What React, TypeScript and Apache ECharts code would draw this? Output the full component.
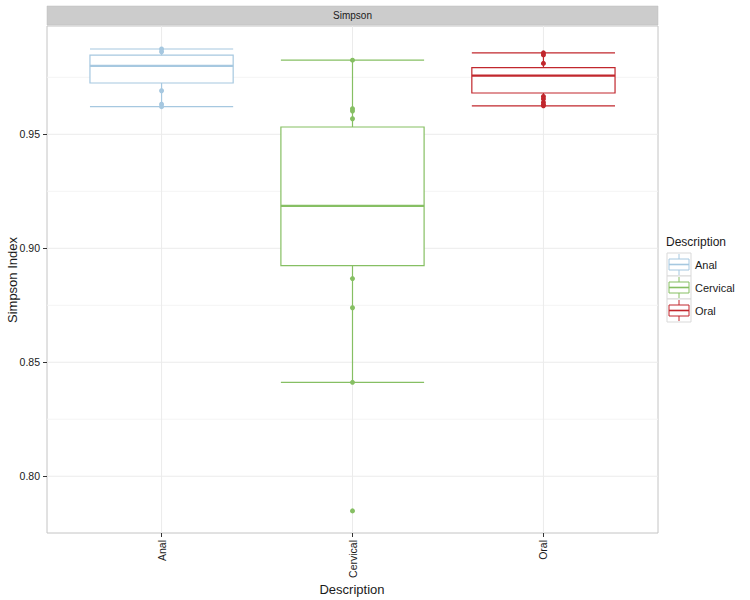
import React, { useEffect, useRef } from "react";
import * as echarts from "echarts";

const categories = ["Anal", "Cervical", "Oral"];
const colors = ["#A6C8E0", "#86BF63", "#C1272D"];
const lowerWhisker = [0.9621, 0.8412, 0.9625];
const q1 = [0.9725, 0.8924, 0.9681];
const median = [0.98, 0.9186, 0.9757];
const q3 = [0.9847, 0.9532, 0.9792];
const upperWhisker = [0.9874, 0.9825, 0.9857];
const analPoints = [0.9874, 0.9862, 0.9691, 0.9632, 0.9621];
const cervicalPoints = [0.9825, 0.9612, 0.9602, 0.9568, 0.8867, 0.8739, 0.8412, 0.7848];
const oralPoints = [0.9857, 0.9848, 0.9811, 0.9666, 0.9655, 0.964, 0.963, 0.9625];
const yTicks = [0.8, 0.85, 0.9, 0.95];
const yMinor = [0.825, 0.875, 0.925, 0.975];
const xTicks = [1, 2, 3];

const FONT = "Liberation Sans, Arial, Helvetica, sans-serif";

export default function App() {
  const ref = useRef<HTMLDivElement>(null);
  useEffect(() => {
    if (!ref.current) return;
    const chart = echarts.init(ref.current, null, { renderer: "svg" });
    const gridL = 47, gridR = 658, gridT = 26, gridB = 533;
    const pointSets = [analPoints, cervicalPoints, oralPoints];

    const legendChildren: any[] = [
      { type: "text", x: 666, y: 242, style: { text: "Description", font: `12px ${FONT}`, fill: "#1a1a1a", verticalAlign: "middle" } },
    ];
    categories.forEach((c, i) => {
      const ky = 253 + i * 23;
      const col = colors[i];
      legendChildren.push(
        { type: "rect", shape: { x: 667, y: ky, width: 24, height: 23 }, style: { fill: "#fff", stroke: "#d9d9d9", lineWidth: 1 } },
        { type: "line", shape: { x1: 679, y1: ky + 1, x2: 679, y2: ky + 22 }, style: { stroke: col, lineWidth: 1 } },
        { type: "rect", shape: { x: 669, y: ky + 6, width: 20, height: 11 }, style: { fill: "#fff", stroke: col, lineWidth: 1 } },
        { type: "line", shape: { x1: 669, y1: ky + 11.5, x2: 689, y2: ky + 11.5 }, style: { stroke: col, lineWidth: 1.6 } },
        { type: "text", x: 695, y: ky + 11.5, style: { text: c, font: `11px ${FONT}`, fill: "#1a1a1a", verticalAlign: "middle" } }
      );
    });

    const option: any = {
      animation: false,
      backgroundColor: "#fff",
      textStyle: { fontFamily: FONT },
      grid: {
        left: gridL,
        right: 750 - gridR,
        top: gridT,
        bottom: 600 - gridB,
        containLabel: false,
        outerBoundsMode: "none",
        show: true,
        borderColor: "#c4c4c4",
        borderWidth: 1,
        backgroundColor: "#fff",
      },
      xAxis: {
        type: "value",
        min: 0.4,
        max: 3.6,
        axisLine: { show: false },
        splitLine: { show: false },
        axisTick: { show: true, customValues: xTicks, length: 4, lineStyle: { color: "#333" } },
        axisLabel: {
          customValues: xTicks,
          rotate: 90,
          margin: 7,
          fontSize: 10.5,
          color: "#1a1a1a",
          fontFamily: FONT,
          formatter: (v: number) => categories[Math.round(v) - 1] || "",
        },
      },
      yAxis: {
        type: "value",
        min: 0.7751,
        max: 0.9975,
        axisLine: { show: false },
        splitLine: { show: false },
        axisTick: { show: true, customValues: yTicks, length: 4, lineStyle: { color: "#333" } },
        axisLabel: {
          customValues: yTicks,
          margin: 7,
          fontSize: 10.5,
          color: "#1a1a1a",
          fontFamily: FONT,
          formatter: (v: number) => v.toFixed(2),
        },
      },
      graphic: [
        { type: "rect", shape: { x: gridL, y: 6, width: gridR - gridL, height: 19 }, style: { fill: "#cccccc", stroke: "#bdbdbd", lineWidth: 0.5 } },
        { type: "text", x: (gridL + gridR) / 2, y: 15.5, style: { text: "Simpson", font: `10px ${FONT}`, fill: "#1a1a1a", align: "center", verticalAlign: "middle" } },
        { type: "text", x: 12, y: 280, rotation: Math.PI / 2, style: { text: "Simpson Index", font: `13px ${FONT}`, fill: "#1a1a1a", align: "center", verticalAlign: "middle" } },
        { type: "text", x: 352, y: 589, style: { text: "Description", font: `13px ${FONT}`, fill: "#1a1a1a", align: "center", verticalAlign: "middle" } },
        ...legendChildren,
      ],
      series: [
        {
          type: "custom",
          name: "gridlines",
          z: 0,
          silent: true,
          data: [[2, 0.9]],
          renderItem: (params: any, api: any) => {
            const cs = params.coordSys;
            const children: any[] = [];
            yMinor.forEach((v) => {
              const p = api.coord([1, v]);
              children.push({ type: "line", shape: { x1: cs.x, y1: p[1], x2: cs.x + cs.width, y2: p[1] }, style: { stroke: "#f4f4f4", lineWidth: 1 } });
            });
            yTicks.forEach((v) => {
              const p = api.coord([1, v]);
              children.push({ type: "line", shape: { x1: cs.x, y1: p[1], x2: cs.x + cs.width, y2: p[1] }, style: { stroke: "#ebebeb", lineWidth: 1 } });
            });
            xTicks.forEach((v) => {
              const p = api.coord([v, 0.9]);
              children.push({ type: "line", shape: { x1: p[0], y1: cs.y, x2: p[0], y2: cs.y + cs.height }, style: { stroke: "#ebebeb", lineWidth: 1 } });
            });
            return { type: "group", children };
          },
        },
        ...pointSets.map((pts, i) => ({
          type: "scatter",
          name: categories[i],
          z: 2,
          symbolSize: 5,
          itemStyle: { color: colors[i], opacity: 1 },
          data: pts.map((v) => [i + 1, v]),
        })),
        {
          type: "custom",
          name: "boxes",
          z: 3,
          data: categories.map((c, i) => [i + 1, lowerWhisker[i], q1[i], median[i], q3[i], upperWhisker[i]]),
          encode: { x: 0, y: [1, 2, 3, 4, 5] },
          renderItem: (params: any, api: any) => {
            const x = api.value(0);
            const col = colors[params.dataIndex];
            const halfW = api.size([0.75, 0])[0] / 2;
            const pLo = api.coord([x, api.value(1)]);
            const pQ1 = api.coord([x, api.value(2)]);
            const pMed = api.coord([x, api.value(3)]);
            const pQ3 = api.coord([x, api.value(4)]);
            const pHi = api.coord([x, api.value(5)]);
            const cx = pLo[0];
            const lw = 1.2;
            return {
              type: "group",
              children: [
                { type: "line", shape: { x1: cx, y1: pLo[1], x2: cx, y2: pHi[1] }, style: { stroke: col, lineWidth: lw } },
                { type: "line", shape: { x1: cx - halfW, y1: pLo[1], x2: cx + halfW, y2: pLo[1] }, style: { stroke: col, lineWidth: lw } },
                { type: "line", shape: { x1: cx - halfW, y1: pHi[1], x2: cx + halfW, y2: pHi[1] }, style: { stroke: col, lineWidth: lw } },
                { type: "rect", shape: { x: cx - halfW, y: pQ3[1], width: 2 * halfW, height: pQ1[1] - pQ3[1] }, style: { fill: "#fff", stroke: col, lineWidth: lw } },
                { type: "line", shape: { x1: cx - halfW, y1: pMed[1], x2: cx + halfW, y2: pMed[1] }, style: { stroke: col, lineWidth: 2.2 } },
              ],
            };
          },
        },
      ],
    };
    chart.setOption(option);
    return () => chart.dispose();
  }, []);
  return <div ref={ref} style={{ position: "fixed", left: 0, top: 0, width: 750, height: 600 }} />;
}
